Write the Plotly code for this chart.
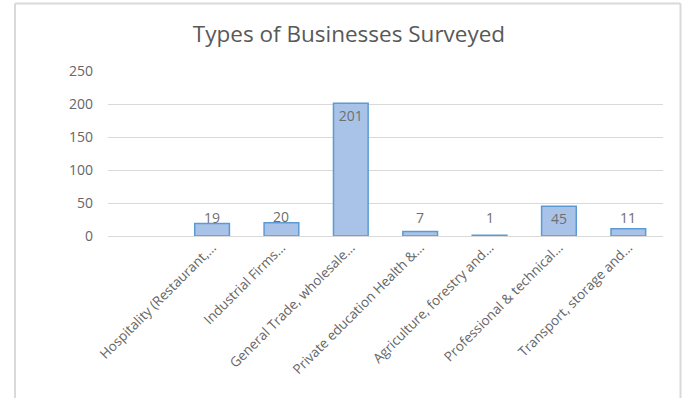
import plotly.graph_objects as go

categories = ["", "Hospitality (Restaurant,…", "Industrial Firms…", "General Trade, wholesale…",
              "Private education Health &…", "Agriculture, forestry and…",
              "Professional & technical…", "Transport, storage and…"]
values = [None, 19, 20, 201, 7, 1, 45, 11]
title_text = "Types of Businesses Surveyed"
y_ticks = [0, 50, 100, 150, 200, 250]

W, H = 683, 398
# plot area in screen pixels
SX0, SX1, SY0, SY1 = 108, 663, 71, 236
L, R, T, B = SX0, W - SX1, SY0, H - SY1
pw, ph = W - L - R, H - T - B

FONT = "Open Sans, Lato, sans-serif"
LABEL_FLOOR = 19  # outside labels of short bars sit on a common baseline

def inside(v):
    return v is not None and v > 30

fig = go.Figure()
fig.add_trace(go.Bar(
    x=list(range(len(categories))),
    y=values,
    text=[(str(v) if inside(v) else "") for v in values],
    textposition="inside",
    insidetextanchor="end",
    textfont=dict(family=FONT, size=14, color="#6f6f6f"),
    cliponaxis=False,
    marker=dict(color="#a8c3e7", line=dict(color="#5b9bd5", width=1.5)),
    hoverinfo="skip",
))

for i, v in enumerate(values):
    if v is not None and not inside(v):
        fig.add_annotation(x=i, y=max(v, LABEL_FLOOR), xref="x", yref="y", text=str(v),
                           showarrow=False, yanchor="middle", yshift=6,
                           font=dict(family=FONT, size=14, color="#6f6f6f"))

def px_x(x):
    return (x - L) / pw

def px_y(y):
    return (H - B - y) / ph

border = dict(color="#d9d9d9", width=2)
bx0, bx1, by0, by1 = px_x(15), px_x(680.5), px_y(H), px_y(3.5)
fig.add_shape(type="line", xref="paper", yref="paper", x0=bx0, x1=bx1, y0=by1, y1=by1, line=border)
fig.add_shape(type="line", xref="paper", yref="paper", x0=bx0, x1=bx0, y0=by0, y1=by1, line=border)
fig.add_shape(type="line", xref="paper", yref="paper", x0=bx1, x1=bx1, y0=by0, y1=by1, line=border)

fig.update_layout(
    width=W, height=H,
    margin=dict(l=L, r=R, t=T, b=B),
    paper_bgcolor="white", plot_bgcolor="white",
    showlegend=False,
    bargap=0.5,
    title=dict(text=title_text, x=px_x(349), xref="paper", xanchor="center",
               y=1 - 34 / H, yref="container", yanchor="middle",
               font=dict(family=FONT, size=22.5, color="#595959")),
    xaxis=dict(
        tickmode="array", tickvals=list(range(len(categories))), ticktext=categories,
        range=[-0.5, len(categories) - 0.5],
        tickangle=-45, showgrid=False, showline=False, zeroline=False, ticks="",
        tickfont=dict(family=FONT, size=13.5, color="#666666"),
    ),
    yaxis=dict(
        range=[0, 250], tickvals=y_ticks, showgrid=True, gridcolor="#d9d9d9", gridwidth=1,
        zeroline=True, zerolinecolor="#d9d9d9", zerolinewidth=1, showline=False,
        ticks="", ticklabelstandoff=14,
        tickfont=dict(family=FONT, size=14, color="#666666"),
    ),
)

fig.write_html("out.html", config={"displayModeBar": False},
               post_script="document.body.style.margin='0';document.body.style.overflow='hidden';")
